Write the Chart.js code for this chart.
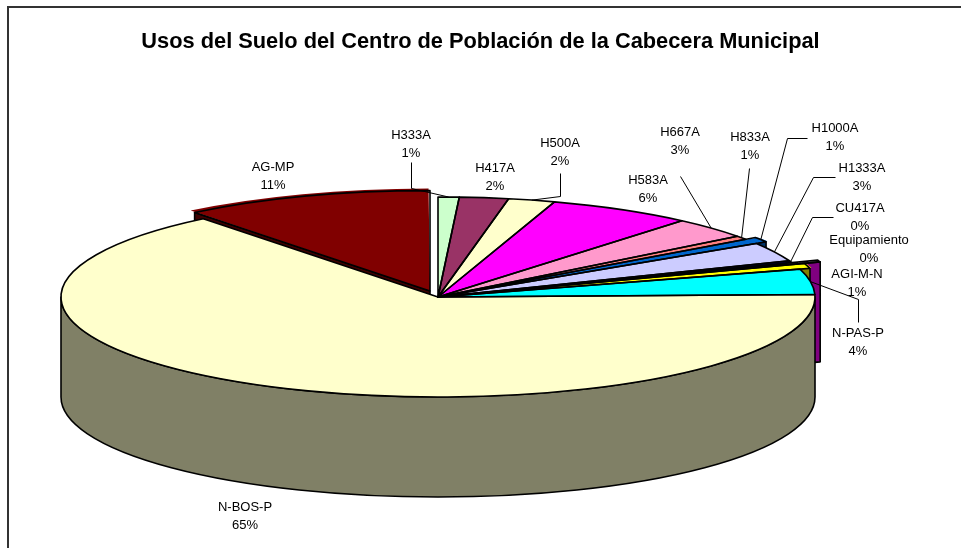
<!DOCTYPE html>
<html>
<head>
<meta charset="utf-8">
<script src="https://cdn.jsdelivr.net/npm/chart.js@4/dist/chart.umd.min.js"></script>
<style>
html,body{margin:0;padding:0;background:#fff;}
canvas{display:block;}
</style>
</head>
<body>
<canvas id="c" width="961" height="548"></canvas>
<script>
// ---------- data ----------
const TITLE = 'Usos del Suelo del Centro de Población de la Cabecera Municipal';
const categories = ['H333A','H417A','H500A','H583A','H667A','H833A','H1000A','H1333A','CU417A','Equipamiento','AGI-M-N','N-PAS-P','N-BOS-P','AG-MP'];
const values = [0.9, 2.1, 2.0, 6.2, 3.4, 0.6, 0.8, 3.1, 0.3, 0.3, 0.8, 4.1, 64.7, 10.7];

// ---------- styles ----------
const sliceColors = ['#CCFFCC','#993366','#FFFFCC','#FF00FF','#FF99CC','#FF8080','#0066CC','#CCCCFF','#000080','#FF00FF','#FFFF00','#00FFFF','#FFFFCC','#800000'];
const explodeOffsets = [0,0,0,0,0,0,1.52,0,0,5.79,1.32,0,0,5.14];

// 3D projection layout (screen)
const L = { cx: 438, cy: 297, rx: 377, ry: 100, depth: 100, line: 1.6 };

// label layout: centre of first text line, optional leader elbow points (leader ends at slice rim)
const labelLayout = [
  {x:411, y:135, lead:[[411,162],[411,188]]},
  {x:495, y:168},
  {x:560, y:143, lead:[[560,173],[560,196]]},
  {x:648, y:180},
  {x:680, y:132, lead:[[680,176]]},
  {x:750, y:137, lead:[[749,168]]},
  {x:835, y:128, lead:[[807,138],[787,138]]},
  {x:862, y:168, lead:[[835,177],[813,177]]},
  {x:860, y:208, lead:[[833,217],[812,217]]},
  {x:869, y:240},
  {x:857, y:274},
  {x:858, y:333, lead:[[858,322],[858,299]]},
  {x:245, y:507},
  {x:273, y:167}
];
const FONT = '"Liberation Sans", Arial, sans-serif';

function shade(hex, f) {
  const n = parseInt(hex.slice(1), 16);
  const r = (n >> 16) & 255, g = (n >> 8) & 255, b = n & 255;
  return 'rgb(' + Math.round(r*f) + ',' + Math.round(g*f) + ',' + Math.round(b*f) + ')';
}

function geometry(chart) {
  const arcs = chart.getDatasetMeta(0).data;
  return arcs.map((arc, i) => {
    const R = arc.outerRadius;
    const sx = L.rx / R, sy = L.ry / R;
    const t = (arc.options.offset || 0) / 4;
    const fix = 1 - Math.sin(Math.min(Math.PI, t || 0));
    const Rr = R + t * fix;
    const h = (arc.startAngle + arc.endAngle) / 2;
    return {
      i, a0: arc.startAngle, a1: arc.endAngle, h,
      cx: L.cx + Math.cos(h) * t * sx, cy: L.cy + Math.sin(h) * t * sy,
      rx: Rr * sx, ry: Rr * sy, color: sliceColors[i], exploded: t > 0,
      ex: arc.x, ey: arc.y, sx, sy
    };
  });
}
function P(g, a, dz) { return [g.cx + g.rx * Math.cos(a), g.cy + g.ry * Math.sin(a) + (dz || 0)]; }

const pie3d = {
  id: 'pie3d',
  beforeDraw(chart) {
    const ctx = chart.ctx;
    ctx.save();
    ctx.fillStyle = '#fff';
    ctx.fillRect(0, 0, chart.width, chart.height);
    ctx.strokeStyle = '#333';
    ctx.lineWidth = 2;
    ctx.strokeRect(8, 7, chart.width + 20, chart.height + 20);
    ctx.restore();
  },
  beforeDatasetsDraw(chart) {
    const ctx = chart.ctx;
    const G = geometry(chart);
    const D = L.depth;
    ctx.save();
    ctx.lineWidth = L.line;
    ctx.strokeStyle = '#000';
    ctx.lineJoin = 'round';
    // cut faces of exploded slices
    const faces = [];
    G.forEach(g => {
      if (!g.exploded) return;
      if (Math.cos(g.a0) < 0) faces.push({g, a: g.a0});
      if (Math.cos(g.a1) > 0) faces.push({g, a: g.a1});
    });
    faces.sort((p, q) => Math.sin(p.a) - Math.sin(q.a));
    faces.forEach(({g, a}) => {
      const [px, py] = P(g, a);
      ctx.beginPath();
      ctx.moveTo(g.cx, g.cy);
      ctx.lineTo(px, py);
      ctx.lineTo(px, py + D);
      ctx.lineTo(g.cx, g.cy + D);
      ctx.closePath();
      ctx.fillStyle = shade(g.color, 0.5);
      ctx.fill();
      ctx.stroke();
    });
    // outer front walls
    const walls = [];
    G.forEach(g => {
      const b0 = Math.max(g.a0, 0), b1 = Math.min(g.a1, Math.PI);
      if (b1 > b0) walls.push({g, b0, b1});
    });
    walls.sort((p, q) => Math.abs((q.b0 + q.b1) / 2 - Math.PI / 2) - Math.abs((p.b0 + p.b1) / 2 - Math.PI / 2));
    walls.forEach(({g, b0, b1}) => {
      ctx.beginPath();
      ctx.ellipse(g.cx, g.cy, g.rx, g.ry, 0, b0, b1, false);
      ctx.ellipse(g.cx, g.cy + D, g.rx, g.ry, 0, b1, b0, true);
      ctx.closePath();
      ctx.fillStyle = shade(g.color, 0.5);
      ctx.fill();
      ctx.stroke();
    });
    ctx.restore();
    // transform so that Chart.js draws the top faces as a flattened ellipse
    const g0 = G[0];
    ctx.save();
    ctx.translate(L.cx, L.cy);
    ctx.scale(g0.sx, g0.sy);
    ctx.translate(-g0.ex, -g0.ey);
  },
  afterDatasetsDraw(chart) {
    const ctx = chart.ctx;
    ctx.restore();
    const G = geometry(chart);
    ctx.save();
    ctx.lineWidth = L.line;
    ctx.strokeStyle = '#000';
    ctx.lineJoin = 'round';
    G.forEach(g => {
      ctx.beginPath();
      ctx.moveTo(g.cx, g.cy);
      ctx.ellipse(g.cx, g.cy, g.rx, g.ry, 0, g.a0, g.a1, false);
      ctx.closePath();
      ctx.stroke();
    });
    // labels
    ctx.font = '13px ' + FONT;
    ctx.fillStyle = '#000';
    ctx.textAlign = 'center';
    ctx.textBaseline = 'middle';
    ctx.lineWidth = 1;
    ctx.strokeStyle = '#000';
    G.forEach(g => {
      const lay = labelLayout[g.i];
      const pct = Math.round(values[g.i]) + '%';
      ctx.fillText(categories[g.i], lay.x, lay.y);
      ctx.fillText(pct, lay.x, lay.y + 18);
      if (lay.lead) {
        const rim = P(g, g.h);
        ctx.beginPath();
        ctx.moveTo(lay.lead[0][0] + 0.5, lay.lead[0][1] + 0.5);
        for (let k = 1; k < lay.lead.length; k++) ctx.lineTo(lay.lead[k][0] + 0.5, lay.lead[k][1] + 0.5);
        ctx.lineTo(rim[0], rim[1]);
        ctx.stroke();
      }
    });
    ctx.restore();
  }
};

new Chart(document.getElementById('c'), {
  type: 'pie',
  data: {
    labels: categories,
    datasets: [{
      data: values,
      backgroundColor: sliceColors,
      borderWidth: 0,
      offset: explodeOffsets,
      clip: false
    }]
  },
  options: {
    responsive: false,
    animation: false,
    devicePixelRatio: 1,
    events: [],
    radius: 20,
    plugins: {
      legend: { display: false },
      tooltip: { enabled: false },
      title: {
        display: true,
        text: TITLE,
        color: '#000',
        font: { family: FONT, size: 21.8, weight: 'bold' },
        padding: { top: 29, bottom: 0 }
      }
    }
  },
  plugins: [pie3d]
});
</script>
</body>
</html>
